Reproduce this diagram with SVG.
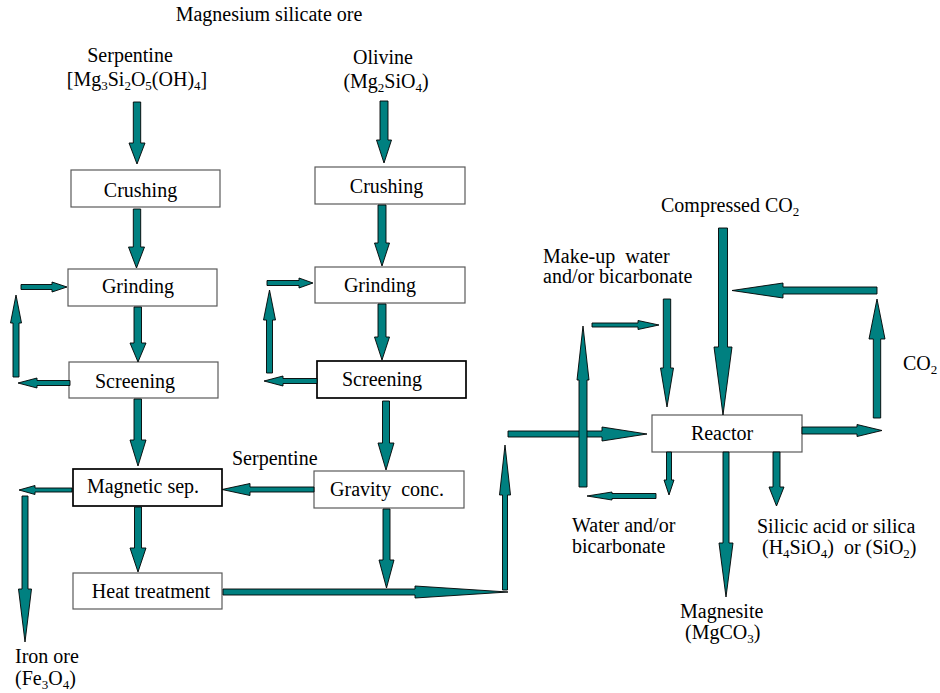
<svg xmlns="http://www.w3.org/2000/svg" width="940" height="693" viewBox="0 0 940 693">
<style>
text{font-family:"Liberation Serif","Times New Roman",serif;font-size:20px;fill:#000;white-space:pre}
.c{text-anchor:middle}
.s{font-size:13px}
.box{fill:#fff;stroke:#5a5a5a;stroke-width:1.2}
.bk{fill:#fff;stroke:#000;stroke-width:1.7}
.ar{fill:#008080;stroke:#000;stroke-width:0.9;stroke-linejoin:miter}
</style>
<rect width="940" height="693" fill="#fff"/>
<g id="labels">
<text class="c" x="269" y="21">Magnesium silicate ore</text>
<text class="c" x="130" y="62">Serpentine</text>
<text class="c" x="137" y="86">[Mg<tspan class="s" dy="4">3</tspan><tspan dy="-4">Si</tspan><tspan class="s" dy="4">2</tspan><tspan dy="-4">O</tspan><tspan class="s" dy="4">5</tspan><tspan dy="-4">(OH)</tspan><tspan class="s" dy="4">4</tspan><tspan dy="-4">]</tspan></text>
<text class="c" x="383" y="64">Olivine</text>
<text class="c" x="386" y="88">(Mg<tspan class="s" dy="4">2</tspan><tspan dy="-4">SiO</tspan><tspan class="s" dy="4">4</tspan><tspan dy="-4">)</tspan></text>
<text x="232" y="465">Serpentine</text>
<text x="15" y="663">Iron ore</text>
<text x="15" y="685">(Fe<tspan class="s" dy="4">3</tspan><tspan dy="-4">O</tspan><tspan class="s" dy="4">4</tspan><tspan dy="-4">)</tspan></text>
<text x="661" y="212">Compressed CO<tspan class="s" dy="4">2</tspan></text>
<text x="543" y="263">Make-up  water</text>
<text x="543" y="283">and/or bicarbonate</text>
<text x="903" y="370">CO<tspan class="s" dy="4">2</tspan></text>
<text x="572" y="532">Water and/or</text>
<text x="572" y="553">bicarbonate</text>
<text x="757" y="533">Silicic acid or silica</text>
<text x="762" y="554">(H<tspan class="s" dy="4">4</tspan><tspan dy="-4">SiO</tspan><tspan class="s" dy="4">4</tspan><tspan dy="-4">)  or (SiO</tspan><tspan class="s" dy="4">2</tspan><tspan dy="-4">)</tspan></text>
<text x="680" y="618">Magnesite</text>
<text x="685" y="639">(MgCO<tspan class="s" dy="4">3</tspan><tspan dy="-4">)</tspan></text>
</g>
<g id="crushing1"><rect class="box" x="71" y="170" width="149" height="37"/><text class="c" x="140.5" y="197">Crushing</text></g>
<g id="crushing2"><rect class="box" x="315" y="167" width="150" height="37"/><text class="c" x="386.5" y="193">Crushing</text></g>
<g id="grinding1"><rect class="box" x="68" y="269" width="149" height="37"/><text class="c" x="138" y="293">Grinding</text></g>
<g id="grinding2"><rect class="box" x="315" y="267" width="150" height="36"/><text class="c" x="380" y="292">Grinding</text></g>
<g id="screening1"><rect class="box" x="69" y="362" width="149" height="36"/><text class="c" x="135" y="388">Screening</text></g>
<g id="screening2"><rect class="bk" x="317" y="361" width="149" height="37"/><text class="c" x="382" y="386">Screening</text></g>
<g id="magnetic"><rect class="bk" x="73" y="469" width="149" height="37"/><text class="c" x="143" y="493">Magnetic sep.</text></g>
<g id="gravity"><rect class="box" x="314" y="471" width="150" height="37"/><text class="c" x="387" y="496">Gravity  conc.</text></g>
<g id="heat"><rect class="box" x="73" y="573" width="149" height="36"/><text class="c" x="151" y="598">Heat treatment</text></g>
<g id="reactor"><rect class="box" x="652" y="415" width="150" height="37"/><text class="c" x="722" y="440">Reactor</text></g>
<g id="connectors">
<polygon class="ar" points="133.3,102 140.7,102 140.7,143 145,143 137,164 129,143 133.3,143"/>
<polygon class="ar" points="380,101 388,101 388,140 391.5,140 384,163 376.5,140 380,140"/>
<polygon class="ar" points="133.3,209 140.7,209 140.7,247 144.5,247 136.5,268 128.5,247 133.3,247"/>
<polygon class="ar" points="378,205 386,205 386,243 389.5,243 382,266 374.5,243 378,243"/>
<polygon class="ar" points="134,307 141.5,307 141.5,343 146,343 138,362 130,343 134,343"/>
<polygon class="ar" points="378,304 386,304 386,337 389.5,337 382,360 374.5,337 378,337"/>
<polygon class="ar" points="134,399 141.5,399 141.5,440 146,440 138,466 130,440 134,440"/>
<polygon class="ar" points="382.5,401 389.5,401 389.5,443 394,443 386,470 378,443 382.5,443"/>
<polygon class="ar" points="134.5,507 141.5,507 141.5,548 146,548 138,572 130,548 134.5,548"/>
<polygon class="ar" points="383,509 390,509 390,560 394,560 386.5,588 379,560 383,560"/>
<polygon class="ar" points="223,589 415,589 415,586 508,592 415,598 415,595 223,595"/>
<polygon class="ar" points="502.5,590 507.5,590 507.5,495 510.5,495 505,445 499.5,495 502.5,495"/>
<polygon class="ar" points="508,431 602,431 602,427 647,434 602,441 602,437 508,437"/>
<polygon class="ar" points="579,487 587,487 587,380 589,380 583,326 577,380 579,380"/>
<polygon class="ar" points="592,323 638,323 638,320.5 659,325 638,329.5 638,327 592,327"/>
<polygon class="ar" points="663.3,299 670.7,299 670.7,368 673.5,368 667,407 660.5,368 663.3,368"/>
<polygon class="ar" points="718.5,228 727.5,228 727.5,347 732,347 723,415 714,347 718.5,347"/>
<polygon class="ar" points="802,427 857,427 857,424.5 882,430.5 857,436.5 857,434 802,434"/>
<polygon class="ar" points="873.3,418 880.7,418 880.7,339 885,339 877,299 869,339 873.3,339"/>
<polygon class="ar" points="877,287 783,287 783,283 732,290.5 783,298 783,294 877,294"/>
<polygon class="ar" points="666.5,452 671.5,452 671.5,480 674,480 669,495 664,480 666.5,480"/>
<polygon class="ar" points="656,493.5 612,493.5 612,492 587,496 612,500 612,498.5 656,498.5"/>
<polygon class="ar" points="723,452 729,452 729,543 733,543 726,597 719,543 723,543"/>
<polygon class="ar" points="773,452 780,452 780,487 784,487 776.5,506 769,487 773,487"/>
<polygon class="ar" points="314,487 250,487 250,483.5 222,489.5 250,495.5 250,492 314,492"/>
<polygon class="ar" points="72,488 35,488 35,485.5 19,490 35,494.5 35,492 72,492"/>
<polygon class="ar" points="22,496 28,496 28,589 31.5,589 25,642 18.5,589 22,589"/>
<polygon class="ar" points="21,284.5 52,284.5 52,282 67,287 52,292 52,289.5 21,289.5"/>
<polygon class="ar" points="13,377 19,377 19,323 21.5,323 16,295 10.5,323 13,323"/>
<polygon class="ar" points="70,380.5 37,380.5 37,378 18,383 37,388 37,385.5 70,385.5"/>
<polygon class="ar" points="267,280.5 299,280.5 299,278 313,283 299,288 299,285.5 267,285.5"/>
<polygon class="ar" points="266.5,373 272.5,373 272.5,320 275.5,320 269.5,290 263.5,320 266.5,320"/>
<polygon class="ar" points="317,378.5 283,378.5 283,376 264,381 283,386 283,383.5 317,383.5"/>
</g>
</svg>
